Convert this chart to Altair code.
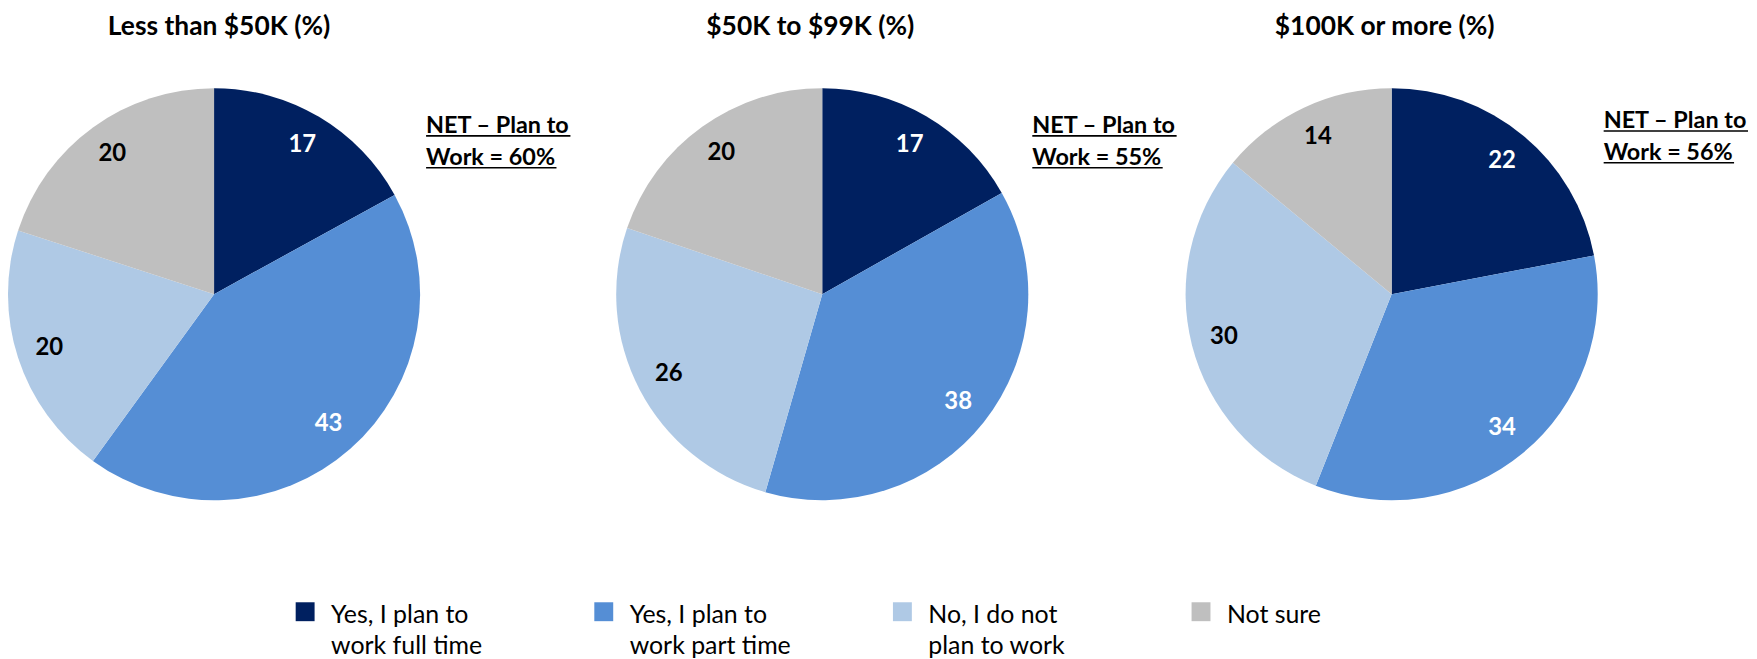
import altair as alt
import pandas as pd

categories = [
    "Yes, I plan to\nwork full time",
    "Yes, I plan to\nwork part time",
    "No, I do not\nplan to work",
    "Not sure",
]
colors = ["#002060", "#558ED5", "#AFC9E5", "#BFBFBF"]
groups = ["Less than $50K (%)", "$50K to $99K (%)", "$100K or more (%)"]
values_lt50 = [17, 43, 20, 20]
values_50_99 = [17, 38, 26, 20]
values_100 = [22, 34, 30, 14]
net_values = [60, 55, 56]

all_values = [values_lt50, values_50_99, values_100]

# layout (panel widths; pies centred in panels)
panel_w = [412, 810, 334]
panel_h = 572
title_x = [211, 393, 160]
title_y = 25.5
net_x = [419, 616, 380]
net_y = [124, 124, 119]
FONT = "Lato"

color_scale = alt.Scale(domain=categories, range=colors)

panels = []
for i, g in enumerate(groups):
    df = pd.DataFrame({
        "category": categories,
        "value": all_values[i],
        "idx": list(range(len(categories))),
    })
    base = alt.Chart(df).encode(
        theta=alt.Theta("value:Q", stack=True),
        order=alt.Order("idx:Q"),
    )
    arc = base.mark_arc(outerRadius=207).encode(
        color=alt.Color("category:N", scale=color_scale, legend=None)
    )
    labels = base.mark_text(
        radius=174, font=FONT, fontSize=24, fontWeight="bold"
    ).encode(
        text=alt.Text("value:Q"),
        color=alt.condition("datum.idx < 2", alt.value("white"), alt.value("black")),
    )
    title = alt.Chart(pd.DataFrame({"t": [g]})).mark_text(
        font=FONT, fontSize=26.5, fontWeight="bold", align="center", baseline="alphabetic",
        color="black",
    ).encode(
        text="t:N",
        x=alt.value(title_x[i]),
        y=alt.value(title_y),
    )
    ny = net_y[i]
    net1 = alt.Chart(pd.DataFrame({"t": ["NET \u2013 Plan to"]})).mark_text(
        font=FONT, fontSize=23.5, fontWeight="bold", align="left", baseline="alphabetic",
        color="black",
    ).encode(text="t:N", x=alt.value(net_x[i]), y=alt.value(ny))
    net2 = alt.Chart(pd.DataFrame({"t": [f"Work = {net_values[i]}%"]})).mark_text(
        font=FONT, fontSize=23.5, fontWeight="bold", align="left", baseline="alphabetic",
        color="black",
    ).encode(text="t:N", x=alt.value(net_x[i]), y=alt.value(ny + 32))
    ul1 = alt.Chart(pd.DataFrame({"a": [0]})).mark_rule(color="black", strokeWidth=1.6).encode(
        x=alt.value(net_x[i]), x2=alt.value(net_x[i] + 145), y=alt.value(ny + 3)
    )
    ul2 = alt.Chart(pd.DataFrame({"a": [0]})).mark_rule(color="black", strokeWidth=1.6).encode(
        x=alt.value(net_x[i]), x2=alt.value(net_x[i] + 131), y=alt.value(ny + 35)
    )
    layers = [arc, labels, title, net1, net2, ul1, ul2]

    if i == 0:
        # legend row built from the categories (drawn below the pies)
        ldf = pd.DataFrame({"category": categories})
        lx = alt.X(
            "category:N",
            scale=alt.Scale(type="point", domain=categories, range=[297.5, 1197.5], padding=0),
            axis=None,
        )
        leg_sq = alt.Chart(ldf).mark_square(size=361, opacity=1).encode(
            x=lx,
            y=alt.value(605),
            color=alt.Color("category:N", scale=color_scale, legend=None),
        )
        leg_tx = alt.Chart(ldf).mark_text(
            font=FONT, fontSize=25, align="left", baseline="alphabetic", dx=26,
            lineBreak="\n", lineHeight=31, color="black",
        ).encode(
            x=lx,
            y=alt.value(616),
            text="category:N",
        )
        layers += [leg_sq, leg_tx]

    layer = alt.layer(*layers).properties(width=panel_w[i], height=panel_h)
    panels.append(layer)

chart = alt.hconcat(*panels, spacing=0, bounds="flush").properties(
    padding=0
).configure(font=FONT).configure_view(strokeWidth=0, stroke=None)

chart.save("out.html", embed_options={"renderer": "svg", "actions": False})
